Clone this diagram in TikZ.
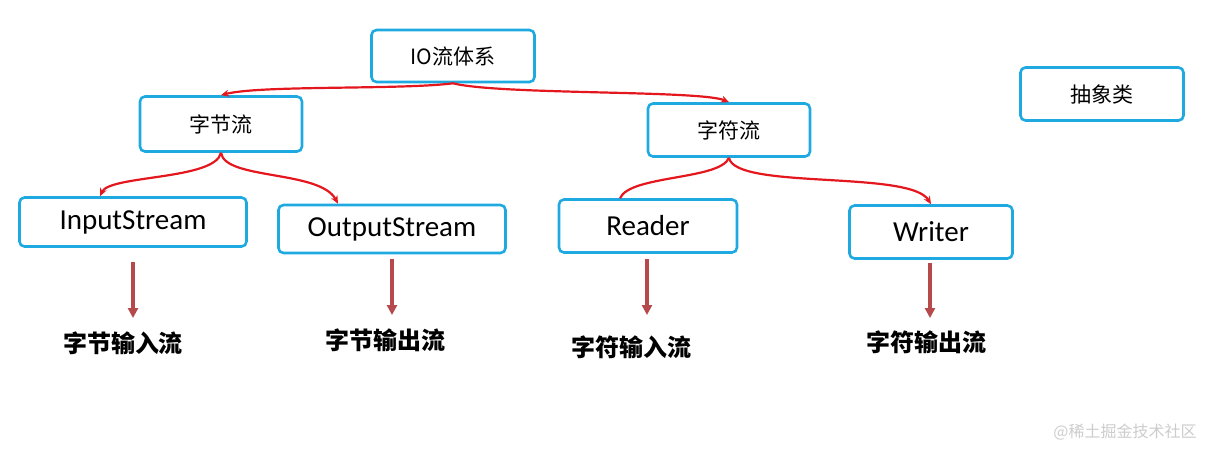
\documentclass[tikz,border=0pt]{standalone}
\usepackage{fontspec}
\setmainfont{Carlito}
\newfontfamily\cjk{Noto Sans CJK SC}
\usetikzlibrary{arrows.meta}
\definecolor{bx}{HTML}{1EAAE0}
\definecolor{rd}{HTML}{E3171D}
\definecolor{br}{HTML}{B5494B}
\begin{document}
\begin{tikzpicture}[x=1pt,y=-1pt,
 box/.style={draw=bx,line width=2.6pt,rounded corners=5pt,inner sep=0pt},
 ar/.style={draw=rd,line width=2.2pt,-{Stealth[length=8pt,width=7pt]}},
 dn/.style={draw=br,line width=3.2pt,-{Triangle[length=10pt,width=10pt]}},
 lab/.style={font=\cjk\fontsize{24}{26}\selectfont\bfseries}]
\useasboundingbox (0,0) rectangle (1213,451);
\node[box,minimum width=163pt,minimum height=52pt,font=\cjk\fontsize{21}{23}\selectfont] (io) at (453,56) {IO流体系};
\node[box,minimum width=163pt,minimum height=53pt,font=\cjk\fontsize{21}{23}\selectfont] (abs) at (1102,94) {抽象类};
\node[box,minimum width=162pt,minimum height=55pt,font=\cjk\fontsize{21}{23}\selectfont] (bs) at (221,124) {字节流};
\node[box,minimum width=162pt,minimum height=53pt,font=\cjk\fontsize{21}{23}\selectfont] (cs) at (729,130) {字符流};
\node[box,minimum width=227pt,minimum height=49pt,font=\fontsize{29}{32}\selectfont] (in) at (133,222) {InputStream};
\node[box,minimum width=227pt,minimum height=48pt,font=\fontsize{29}{32}\selectfont] (out) at (392,229) {OutputStream};
\node[box,minimum width=178pt,minimum height=53pt,font=\fontsize{29}{32}\selectfont] (rd) at (648,226) {Reader};
\node[box,minimum width=163pt,minimum height=53pt,font=\fontsize{29}{32}\selectfont] (wr) at (931,232) {Writer};
\node[lab] (l1) at (123,343) {字节输入流};
\node[lab] (l2) at (385,340) {字节输出流};
\node[lab] (l3) at (631,347) {字符输入流};
\node[lab] (l4) at (926,342) {字符输出流};
\node[font=\cjk\fontsize{16}{18}\selectfont,text=gray!40] (wm) at (1125,432) {@稀土掘金技术社区};
\draw[ar] (io.south) .. controls (400,90) and (260,85) .. (bs.north);
\draw[ar] (io.south) .. controls (500,95) and (700,90) .. (cs.north);
\draw[ar] (bs.south) .. controls (215,180) and (110,175) .. (in.north-|100,0);
\draw[ar] (bs.south) .. controls (225,180) and (320,170) .. (out.north-|338,0);
\draw[draw=rd,line width=2.2pt] (cs.south) .. controls (720,180) and (630,175) .. (rd.north-|620,0);
\draw[ar] (cs.south) .. controls (735,190) and (910,170) .. (wr.north);
\coordinate (a1) at (133,318); \coordinate (a2) at (392,315);
\coordinate (a3) at (647,315); \coordinate (a4) at (930,318);
\draw[dn] ([yshift=-14pt]in.south) -- (a1);
\draw[dn] ([yshift=-5pt]out.south) -- (a2);
\draw[dn] ([yshift=-5pt]rd.south-|a3) -- (a3);
\draw[dn] ([yshift=-3pt]wr.south-|a4) -- (a4);
\end{tikzpicture}
\end{document}
